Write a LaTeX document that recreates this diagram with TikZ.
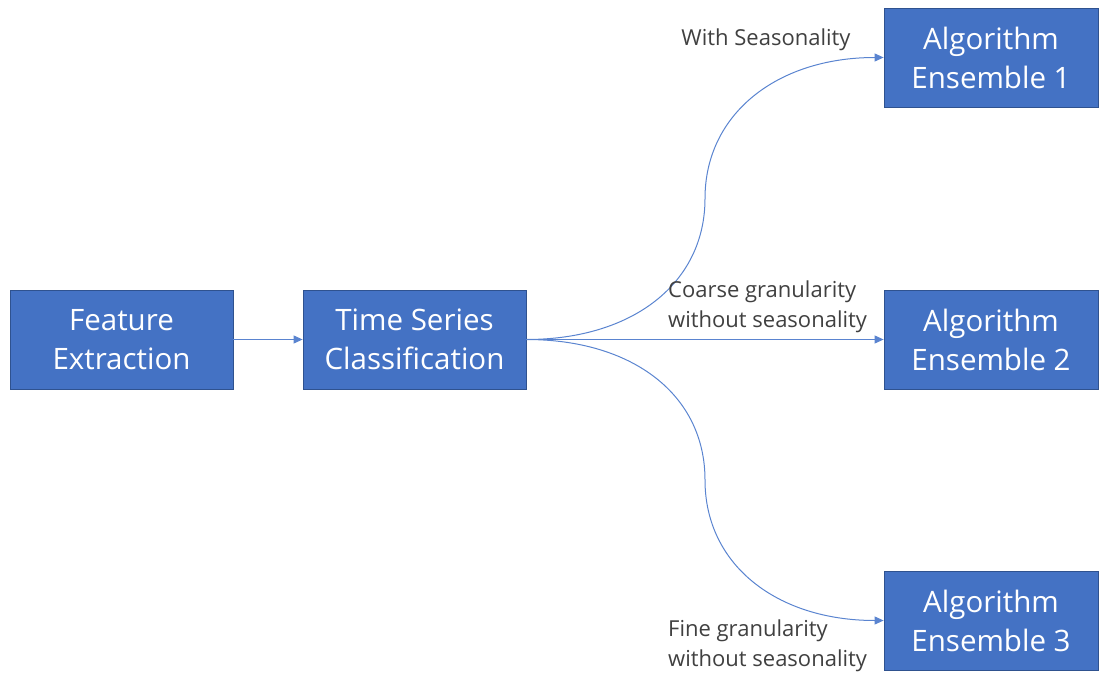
\documentclass[tikz,border=0pt]{standalone}
\usepackage{fontspec}
\setmainfont{Open Sans}
\usetikzlibrary{arrows.meta}
\definecolor{boxblue}{HTML}{4472C4}
\definecolor{boxedge}{HTML}{2F528F}
\definecolor{linkblue}{HTML}{5A84D0}
\definecolor{labelgray}{HTML}{404040}
\begin{document}
\begin{tikzpicture}[x=1pt,y=-1pt,
  blockbox/.style={draw=boxedge,line width=0.8pt,fill=boxblue,text=white,
    minimum width=223pt,minimum height=99pt,align=center,inner sep=0pt,
    font=\fontsize{29.5}{39}\selectfont},
  rightbox/.style={blockbox,minimum width=214pt},
  conn/.style={draw=linkblue,line width=1pt,-{Triangle[length=9pt,width=8pt]}},
  lbl/.style={text=labelgray,font=\fontsize{22}{30}\selectfont,inner sep=0pt,align=left}]
\useasboundingbox (0,0) rectangle (1099,676);
\node[blockbox] (fe) at (121.5,339.5) {Feature\\Extraction};
\node[blockbox] (ts) at (414.5,339.5) {Time Series\\Classification};
\node[rightbox] (e1) at (991,57.5) {Algorithm\\Ensemble 1};
\node[rightbox] (e2) at (991,339.5) {Algorithm\\Ensemble 2};
\node[rightbox] (e3) at (991,620.5) {Algorithm\\Ensemble 3};
\coordinate (m1) at (705,198.5);
\coordinate (m3) at (705,480);
\draw[conn] (fe.east) -- (ts.west);
\draw[conn] (ts.east) .. controls (633,339.5) and (705,283) .. (m1)
  .. controls (705,114) and (777,57.5) .. (e1.west);
\draw[conn] (ts.east) -- (e2.west);
\draw[conn] (ts.east) .. controls (633,339.5) and (705,395) .. (m3)
  .. controls (705,565) and (777,620.5) .. (e3.west);
\node[lbl,anchor=center] (l1) at (766,40) {With Seasonality};
\node[lbl,anchor=west] (l2) at (668,307) {Coarse granularity\\without seasonality};
\node[lbl,anchor=west] (l3) at (668,646) {Fine granularity\\without seasonality};
\end{tikzpicture}
\end{document}
